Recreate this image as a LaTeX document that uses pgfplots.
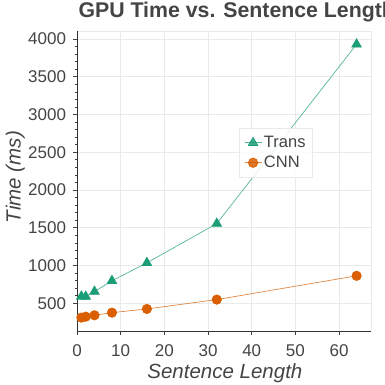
\documentclass[border=0pt]{standalone}
\usepackage{pgfplots}
\pgfplotsset{compat=1.18}
\usepackage{fontspec}
\setmainfont{Liberation Sans}
\setsansfont{Liberation Sans}
\definecolor{transgreen}{HTML}{1B9E77}
\definecolor{cnnorange}{HTML}{D95F02}
\definecolor{tickgray}{HTML}{444444}
\definecolor{gridgray}{HTML}{EAEAEA}

\begin{document}
\begin{tikzpicture}
\useasboundingbox (0,0) rectangle (385pt,385pt);
\begin{axis}[
    at={(77pt,54pt)}, anchor=south west,
    scale only axis,
    width=294pt, height=300pt,
    xmin=0, xmax=67.3,
    ymin=132, ymax=4106,
    xtick={0,10,...,60},
    ytick={500,1000,...,4000},
    minor y tick num=4,
    /pgf/number format/assume math mode=true,
    /pgf/number format/1000 sep={},
    ticklabel style={font=\fontsize{17}{17}\selectfont, text=tickgray},
    tick align=outside,
    major tick length=4pt, minor tick length=2.5pt,
    tick style={color=black!75, line width=0.6pt},
    xtick pos=bottom, ytick pos=left,
    xticklabel style={yshift=-6pt},
    yticklabel style={xshift=-3.5pt},
    grid=major,
    major grid style={gridgray, line width=0.7pt},
    axis line style={draw=none},
    title={GPU Time vs. Sentence Length},
    title style={at={(axis description cs:0,1)}, anchor=base west, xshift=-2pt, yshift=7pt,
        font=\fontsize{21.3}{21.3}\selectfont\bfseries, text=tickgray},
    xlabel={Sentence Length},
    xlabel style={at={(axis description cs:0.503,-0.14)}, anchor=center,
        font=\fontsize{20.5}{20.5}\selectfont\itshape, text=tickgray},
    ylabel={Time (ms)},
    ylabel style={at={(axis description cs:-0.21,0.513)}, anchor=center, rotate=0,
        font=\fontsize{20.5}{20.5}\selectfont\itshape, text=tickgray},
    legend style={at={(axis description cs:0.551,0.676)}, anchor=north west,
        font=\fontsize{16.5}{16.5}\selectfont, text=tickgray, draw=gridgray, fill=white,
        fill opacity=0.85, text opacity=1,
        inner xsep=5pt, inner ysep=6pt, row sep=3pt, nodes={inner sep=2pt}},
    legend cell align=left,
    clip=false,
]
% axis frame: light top/right, dark left/bottom
\draw[gridgray, line width=0.7pt] (rel axis cs:0,1) -- (rel axis cs:1,1) -- (rel axis cs:1,0);
\draw[black!80, line width=0.8pt] (rel axis cs:0,1) -- (rel axis cs:0,0) -- (rel axis cs:1,0);

\addplot[color=transgreen!75, line width=0.7pt, mark=triangle*,
    mark options={fill=transgreen, draw=transgreen, mark size=5.5pt}]
    coordinates {(1,590) (2,588) (4,654) (8,797) (16,1035) (32,1555) (64,3930)};
\addlegendentry{Trans}

\addplot[color=cnnorange!75, line width=0.7pt, mark=*,
    mark options={fill=cnnorange, draw=cnnorange, mark size=4.7pt}]
    coordinates {(1,309) (2,322) (4,340) (8,375) (16,424) (32,548) (64,863)};
\addlegendentry{CNN}
\end{axis}
\end{tikzpicture}
\end{document}
